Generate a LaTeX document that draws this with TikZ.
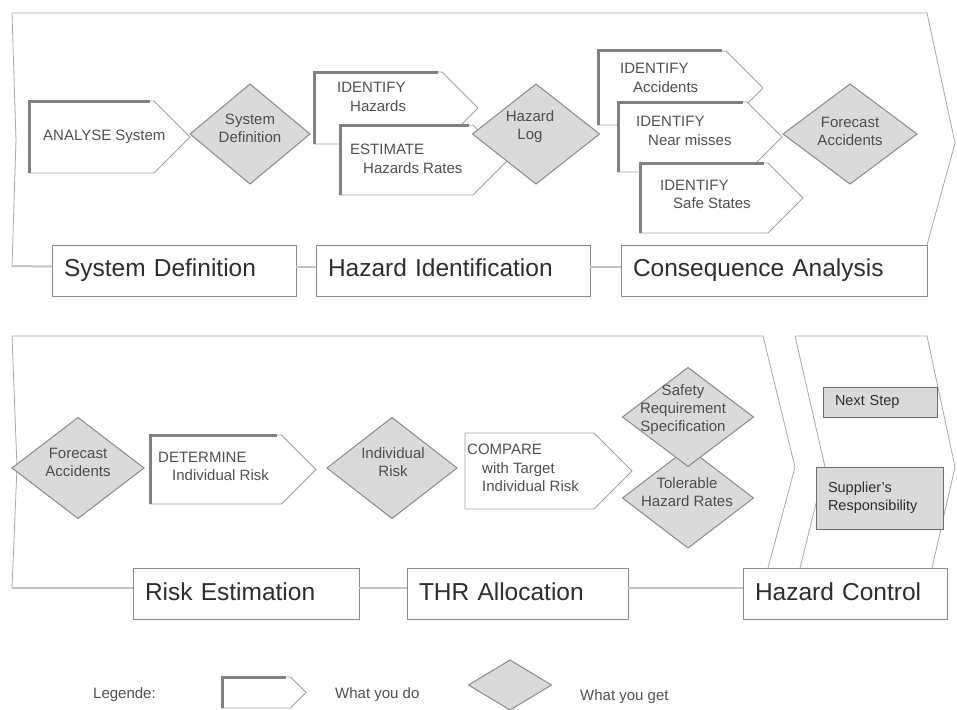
\documentclass[tikz,border=0pt]{standalone}
\usepackage{fontspec}
\setmainfont{Liberation Sans}
\usepackage{tikz}
\usetikzlibrary{calc,positioning,shapes.geometric,shapes.symbols}

\definecolor{linegray}{HTML}{8A8A8A}
\definecolor{framegray}{HTML}{A8A8A8}
\definecolor{linkgray}{HTML}{C4C4C4}
\definecolor{dogray}{HTML}{A0A0A0}
\definecolor{bevelgray}{HTML}{808080}
\definecolor{getfill}{HTML}{DADADA}
\definecolor{textgray}{HTML}{505050}
\definecolor{darktext}{HTML}{2E2E2E}

\begin{document}
\begin{tikzpicture}[
    x=1pt, y=-1pt,
    frame/.style = {draw=framegray, line width=0.8pt},
    link/.style = {draw=linkgray, line width=2pt},
    dobox/.style 2 args = {
        shape=signal, signal to=east, signal from=nowhere,
        signal pointer angle=90, anchor=west,
        draw=dogray, fill=white, line width=0.8pt,
        minimum width=#1, minimum height=#2,
        inner sep=0pt, outer sep=0pt
    },
    bevel/.style = {draw=bevelgray, line width=3pt},
    getbox/.style 2 args = {
        diamond, draw=linegray, fill=getfill, line width=1pt,
        minimum width=#1, minimum height=#2,
        inner sep=0pt, outer sep=0pt
    },
    phase/.style = {
        draw=linegray, fill=white, line width=1pt,
        minimum height=51pt, text width=#1, align=left,
        text height=18pt, text depth=6pt,
        inner xsep=12pt, inner ysep=0pt, outer sep=0pt,
        font=\fontsize{24.5}{28}\selectfont, text=darktext
    },
    stepbox/.style = {
        draw=linegray!80!black, fill=getfill, line width=1pt,
        text width=#1, align=left, inner xsep=12pt, inner ysep=0pt,
        outer sep=0pt, font=\fontsize{14.5}{18}\selectfont, text=darktext
    },
    dotext/.style = {
        anchor=west, align=left, inner sep=0pt,
        font=\fontsize{15}{18.5}\selectfont, text=textgray
    },
    gettext/.style = {
        align=center, inner sep=0pt,
        font=\fontsize{15}{18}\selectfont, text=darktext!85
    }
]
\useasboundingbox (0,0) rectangle (957,709);

% --- Phase frames ---
\coordinate (f1sw) at (12,266);
\coordinate (f2sw) at (12,588);
\draw[frame] (927,245) -- (955,143) -- (927,13) -- (12,13) -- (16,140) -- (f1sw);
\draw[frame] (f2sw) -- (17,467) -- (12,336) -- (763,336) -- (795,467) -- (768,568);
\draw[frame] (800,568) -- (825,467) -- (795,336) -- (927,336) -- (955,467) -- (932,568);

% --- Row 1: what you do / what you get ---
\node[dobox={161pt}{72pt}] (analyse) at (29,137) {};
\node[getbox={120pt}{100pt}] (sysdefd) at (250,134) {};
\node[dobox={164pt}{72pt}] (idhaz) at (314,108) {};
\node[dobox={168pt}{70pt}] (esthaz) at (340,160) {};
\node[getbox={127pt}{100pt}] (hazlog) at (536,134) {};
\node[dobox={165pt}{74pt}] (idacc) at (598,88) {};
\node[dobox={164pt}{70pt}] (idnear) at (618,137) {};
\node[dobox={163pt}{70pt}] (idsafe) at (640,198) {};
\node[getbox={134pt}{100pt}] (fcacc1) at (850,134) {};

% --- Row 2 ---
\node[getbox={132pt}{101pt}] (fcacc2) at (78,468) {};
\node[dobox={166pt}{69pt}] (determ) at (150,469.5) {};
\node[getbox={130pt}{101pt}] (indrisk) at (392,468) {};
\node[dobox={167pt}{76pt}] (compare) at (465,471) {};
\node[getbox={131pt}{100pt}] (thr) at (688,498) {};
\node[getbox={131pt}{99pt}] (srs) at (688,417) {};
\node[stepbox=90pt, minimum height=30pt] (nextstep) at (880,402) {Next Step};
\node[stepbox=103pt, minimum height=62pt] (supplier) at (879.5,498) {Supplier's\\Responsibility};

% --- Legend ---
\node[dobox={84pt}{31pt}] (legdo) at (222,692.5) {};
\node[getbox={83pt}{50pt}] (legget) at (510,685) {};

% --- Bevels ---
\foreach \n/\t in {analyse/40, idhaz/40, esthaz/39, idacc/41, idnear/39,
                   idsafe/39, determ/39, legdo/20}
    \draw[bevel] (\n.south -| \n.west) -- (\n.north -| \n.west)
        -- ($(\n.north -| \n.east)+(-\t,0)$);

% --- Texts ---
\node[dotext] (analyse-t) at (43,137) {ANALYSE System};
\node[dotext] (idhaz-t) at (337,97) {IDENTIFY\\\hspace*{13pt}Hazards};
\node[dotext] (esthaz-t) at (350,159) {ESTIMATE\\\hspace*{13pt}Hazards Rates};
\node[dotext] (idacc-t) at (620,78) {IDENTIFY\\\hspace*{13pt}Accidents};
\node[dotext] (idnear-t) at (636,131) {IDENTIFY\\\hspace*{12pt}Near misses};
\node[dotext] (idsafe-t) at (660,194.5) {IDENTIFY\\\hspace*{13pt}Safe States};
\node[dotext] (determ-t) at (158,466.5) {DETERMINE\\\hspace*{14pt}Individual Risk};
\node[dotext] (compare-t) at (467,468) {COMPARE\\\hspace*{15pt}with Target\\\hspace*{15pt}Individual Risk};

\node[gettext] (sysdefd-t) at (250,128) {System\\Definition};
\node[gettext] (hazlog-t) at (530,127) {Hazard\\Log};
\node[gettext] (fcacc1-t) at (850,131) {Forecast\\Accidents};
\node[gettext] (fcacc2-t) at (78,462) {Forecast\\Accidents};
\node[gettext] (indrisk-t) at (393,462) {Individual\\Risk};
\node[gettext] (srs-t) at (683,410) {Safety\\Requirement\\Specification};
\node[gettext] (thr-t) at (687,492) {Tolerable\\Hazard Rates};

\node[dotext] (legtitle) at (93,695) {Legende:};
\node[dotext] (legdo-t) at (335,695) {What you do};
\node[dotext] (legget-t) at (580,697) {What you get};

% --- Phases ---
\node[phase=220pt] (sysdef) at (174,270.5) {System Definition};
\node[phase=250pt] (hazid) at (453,270.5) {Hazard Identification};
\node[phase=282pt] (cons) at (774,270.5) {Consequence Analysis};
\node[phase=202pt] (riskest) at (246,594) {Risk Estimation};
\node[phase=197pt] (thralloc) at (517.5,594) {THR Allocation};
\node[phase=180pt] (hazctl) at (845,594) {Hazard Control};

\draw[link] (f1sw) -- ([yshift=4pt]sysdef.west);
\draw[link] ([yshift=4pt]sysdef.east) -- ([yshift=4pt]hazid.west);
\draw[link] ([yshift=4pt]hazid.east) -- ([yshift=4pt]cons.west);
\draw[link] (f2sw) -- ([yshift=6pt]riskest.west);
\draw[link] ([yshift=6pt]riskest.east) -- ([yshift=6pt]thralloc.west);
\draw[link] ([yshift=6pt]thralloc.east) -- ([yshift=6pt]hazctl.west);

\end{tikzpicture}
\end{document}
